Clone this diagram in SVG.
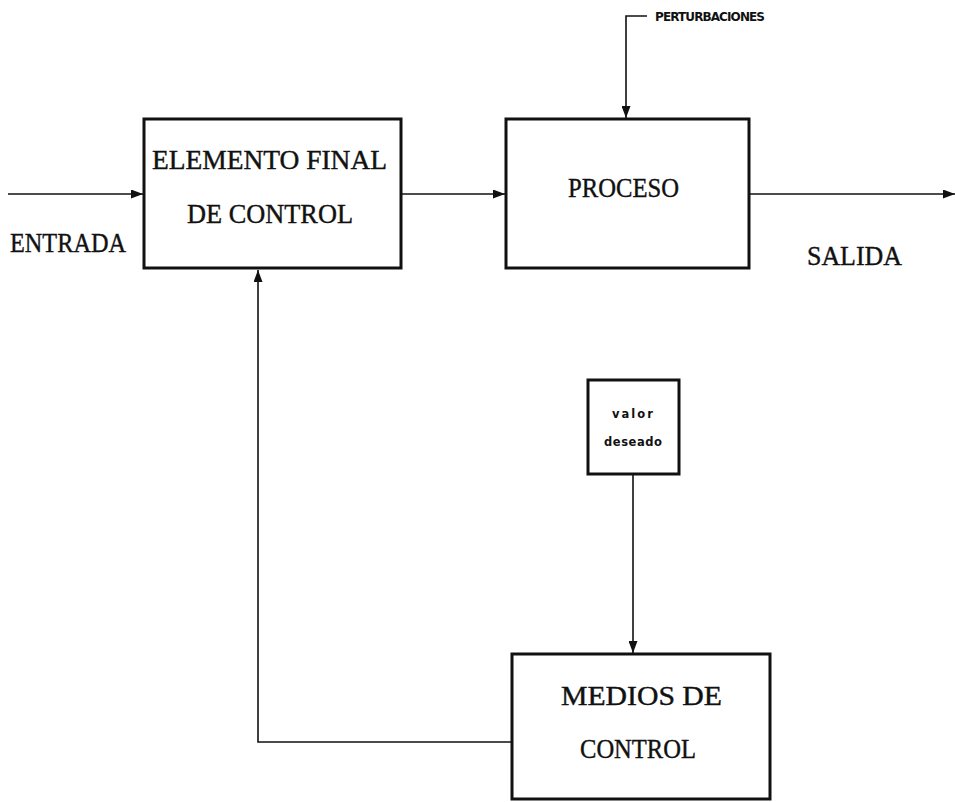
<svg xmlns="http://www.w3.org/2000/svg" width="955" height="802" viewBox="0 0 955 802">
<style>
.box{fill:#fff;stroke:#111;stroke-width:3}
.big{font-family:"Liberation Serif","DejaVu Serif",serif;font-size:27px;fill:#111;stroke:#111;stroke-width:0.4}
.small{font-family:"DejaVu Sans","Liberation Sans",sans-serif;font-size:11.5px;font-weight:bold;fill:#111}
.pert{font-family:"DejaVu Sans","Liberation Sans",sans-serif;font-size:12px;font-weight:bold;fill:#111}
.ln{fill:none;stroke:#111;stroke-width:1.6}
</style>
<defs>
<marker id="ah" viewBox="0 0 12 9" refX="12" refY="4.5" markerWidth="12" markerHeight="9" markerUnits="userSpaceOnUse" orient="auto">
<path d="M0,0 L12,4.5 L0,9 Z" fill="#111"/>
</marker>
</defs>
<rect width="955" height="802" fill="#fff"/>
<g id="connectors">
<line class="ln" x1="8" y1="194" x2="143" y2="194" marker-end="url(#ah)"/>
<line class="ln" x1="402" y1="194" x2="505" y2="194" marker-end="url(#ah)"/>
<line class="ln" x1="750" y1="194" x2="955" y2="194" marker-end="url(#ah)"/>
<polyline class="ln" points="647,16 626,16 626,118" marker-end="url(#ah)"/>
<line class="ln" x1="633" y1="475" x2="633" y2="653" marker-end="url(#ah)"/>
<polyline class="ln" points="511,742 258,742 258,270" marker-end="url(#ah)"/>
</g>
<g id="elemento">
<rect class="box" x="144" y="119" width="257" height="149"/>
<text class="big" x="152" y="169" textLength="235" lengthAdjust="spacingAndGlyphs">ELEMENTO FINAL</text>
<text class="big" x="187" y="223" textLength="166" lengthAdjust="spacingAndGlyphs">DE CONTROL</text>
</g>
<g id="proceso">
<rect class="box" x="506" y="119" width="243" height="149"/>
<text class="big" x="568" y="197" textLength="111" lengthAdjust="spacingAndGlyphs">PROCESO</text>
</g>
<g id="valor">
<rect class="box" x="588" y="380" width="91" height="94"/>
<text class="small" x="612" y="418" textLength="41" lengthAdjust="spacing">valor</text>
<text class="small" x="604" y="446" textLength="58" lengthAdjust="spacing">deseado</text>
</g>
<g id="medios">
<rect class="box" x="512" y="654" width="258" height="145"/>
<text class="big" x="561" y="705" textLength="161" lengthAdjust="spacingAndGlyphs">MEDIOS DE</text>
<text class="big" x="580" y="758" textLength="116" lengthAdjust="spacingAndGlyphs">CONTROL</text>
</g>
<g id="labels">
<text class="big" x="10" y="252" textLength="116" lengthAdjust="spacingAndGlyphs">ENTRADA</text>
<text class="big" x="807" y="265" textLength="95" lengthAdjust="spacingAndGlyphs">SALIDA</text>
<text class="pert" x="655" y="21" textLength="110" lengthAdjust="spacing">PERTURBACIONES</text>
</g>
</svg>
